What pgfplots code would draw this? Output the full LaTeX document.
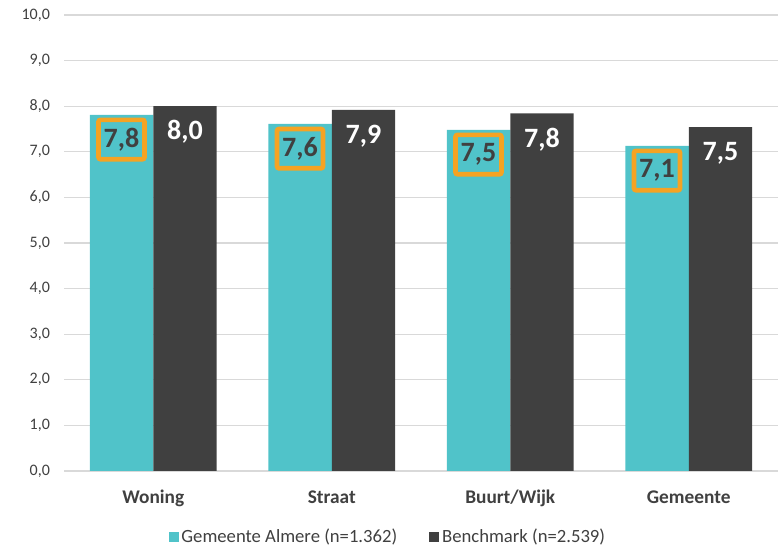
\documentclass[border=0pt]{standalone}
\usepackage{pgfplots}
\pgfplotsset{compat=1.18}
\usepackage{fontspec}
\setmainfont{Carlito}
\definecolor{almteal}{RGB}{80,195,201}
\definecolor{benchgray}{RGB}{64,64,64}
\definecolor{boxorange}{RGB}{245,163,35}
\definecolor{gridgray}{RGB}{217,217,217}
\definecolor{txtgray}{RGB}{64,64,64}

\begin{document}
\begin{tikzpicture}
\begin{axis}[
  name=ax,
  scale only axis,
  width=535.5pt,height=342pt,
  xmin=-0.5,xmax=3.5,ymin=0,ymax=10,
  ybar=0pt,bar width=47.6pt,
  xtick={0,1,2,3},
  xticklabels={Woning,Straat,Buurt/Wijk,Gemeente},
  xticklabel style={font=\bfseries\fontsize{14.5}{17}\selectfont,text=txtgray,yshift=-11pt},
  ytick={0,1,...,10},
  yticklabel style={font=\fontsize{12}{14}\selectfont,text=txtgray,xshift=-7pt},
  /pgf/number format/assume math mode=true,
  yticklabel={\pgfmathprintnumber[fixed,fixed zerofill,precision=1,use comma]{\tick}},
  major tick length=0pt,
  ymajorgrids,
  grid style={gridgray,line width=0.8pt},
  axis x line*=bottom,
  axis y line*=left,
  y axis line style={draw=none},
  x axis line style={gridgray,line width=0.8pt,-},
  nodes near coords={\pgfmathprintnumber[fixed,fixed zerofill,precision=1,use comma]{\pgfplotspointmeta}},
  every node near coord/.append style={font=\bfseries\fontsize{21}{24}\selectfont,anchor=center,yshift=-19.5pt},
  legend style={at={(0.454,-0.145)},anchor=center,draw=none,legend columns=2,
    font=\fontsize{14}{16}\selectfont,text=txtgray,
    /tikz/every even column/.append style={column sep=22pt}},
  legend image code/.code={\draw[#1,draw=none] (0cm,-0.13cm) rectangle (0.27cm,0.14cm);},
]
\addplot[fill=almteal,draw=none,
  every node near coord/.append style={text=txtgray,draw=boxorange,line width=3.5pt,rounded corners=1.5pt,minimum width=34.5pt,minimum height=29.5pt,inner sep=1pt,yshift=1pt}]
  coordinates {(0,7.81) (1,7.61) (2,7.48) (3,7.13)};
\addplot[fill=benchgray,draw=none,
  every node near coord/.append style={text=white}]
  coordinates {(0,8.0) (1,7.92) (2,7.84) (3,7.54)};
\legend{Gemeente Almere (n=1.362),Benchmark (n=2.539)}
\end{axis}
\pgfresetboundingbox
\path[use as bounding box] ([xshift=-48pt,yshift=-57.75pt]ax.south west) rectangle ([xshift=3pt,yshift=11.25pt]ax.north east);
\end{tikzpicture}
\end{document}
